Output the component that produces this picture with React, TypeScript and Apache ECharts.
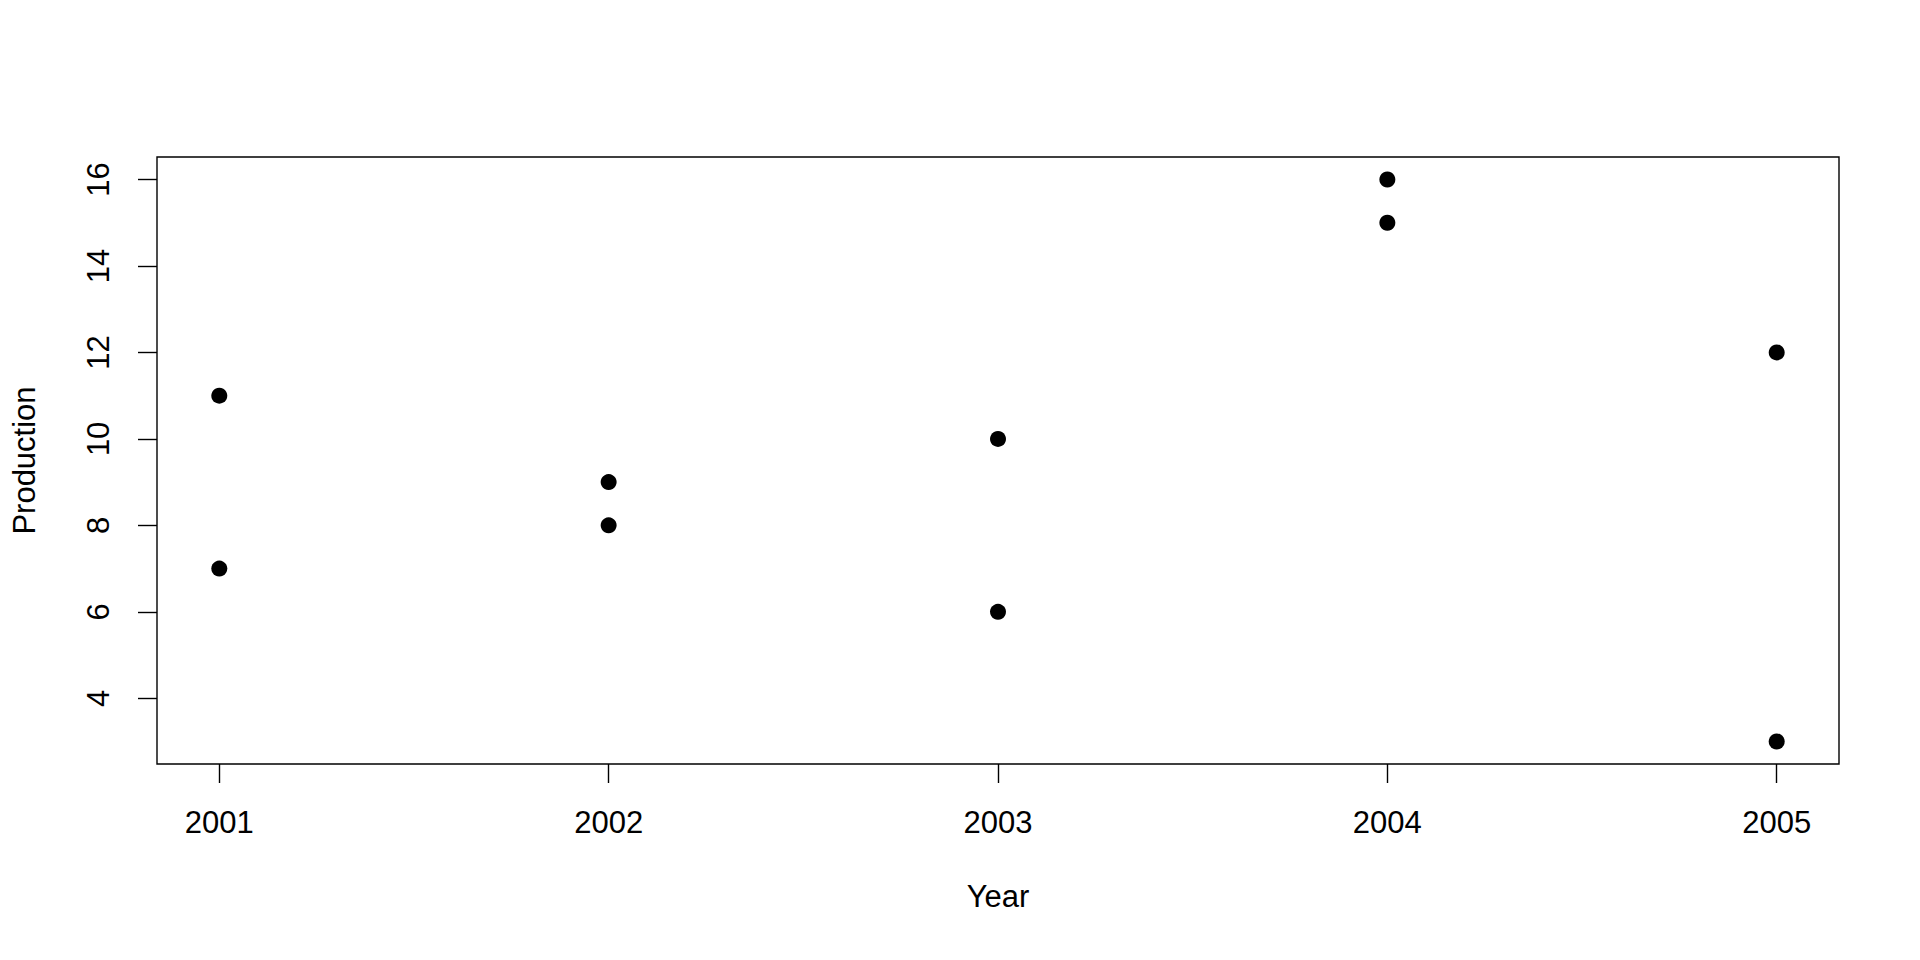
import React, { useEffect, useRef } from "react";
import * as echarts from "echarts";

const years = [2001, 2002, 2003, 2004, 2005];
const productionLow = [7, 8, 6, 15, 3];
const productionHigh = [11, 9, 10, 16, 12];
const xTicks = [2001, 2002, 2003, 2004, 2005];
const yTicks = [4, 6, 8, 10, 12, 14, 16];

const FONT = "'Liberation Sans', Arial, Helvetica, sans-serif";

export default function App() {
  const ref = useRef<HTMLDivElement>(null);
  useEffect(() => {
    if (!ref.current) return;
    const chart = echarts.init(ref.current, undefined, { renderer: "svg" });
    const points: number[][] = [];
    years.forEach((y, i) => {
      points.push([y, productionLow[i]]);
      points.push([y, productionHigh[i]]);
    });
    const allY = [...productionLow, ...productionHigh];
    const yMinD = Math.min(...allY);
    const yMaxD = Math.max(...allY);
    const yPad = (yMaxD - yMinD) * 0.04;
    const xMinD = Math.min(...years);
    const xMaxD = Math.max(...years);
    const xPad = (xMaxD - xMinD) * 0.04;
    chart.setOption({
      animation: false,
      backgroundColor: "#ffffff",
      grid: {
        left: 157,
        right: 81,
        top: 157,
        bottom: 196,
        show: true,
        borderColor: "#000",
        borderWidth: 1.4,
        backgroundColor: "transparent",
      },
      xAxis: {
        type: "value",
        min: xMinD - xPad,
        max: xMaxD + xPad,
        name: "Year",
        nameLocation: "middle",
        nameGap: 117,
        nameTextStyle: { fontFamily: FONT, fontSize: 31, color: "#000" },
        splitLine: { show: false },
        axisLine: { show: false },
        axisTick: {
          show: true,
          customValues: xTicks,
          length: 19,
          lineStyle: { color: "#000", width: 1.4 },
        },
        axisLabel: {
          customValues: xTicks,
          margin: 43,
          fontFamily: FONT,
          fontSize: 31,
          color: "#000",
          formatter: (v: number) => String(v),
        },
      },
      yAxis: {
        type: "value",
        min: yMinD - yPad,
        max: yMaxD + yPad,
        name: "Production",
        nameLocation: "middle",
        nameGap: 117,
        nameRotate: 90,
        nameTextStyle: { fontFamily: FONT, fontSize: 31, color: "#000" },
        splitLine: { show: false },
        axisLine: { show: false },
        axisTick: {
          show: true,
          customValues: yTicks,
          length: 19,
          lineStyle: { color: "#000", width: 1.4 },
        },
        axisLabel: {
          customValues: yTicks,
          rotate: 90,
          margin: 43,
          fontFamily: FONT,
          fontSize: 31,
          color: "#000",
          formatter: (v: number) => String(v),
        },
      },
      series: [
        {
          type: "scatter",
          data: points,
          symbol: "circle",
          symbolSize: 16,
          itemStyle: { color: "#000", opacity: 1 },
        },
      ],
    });
    return () => chart.dispose();
  }, []);
  return (
    <div
      ref={ref}
      style={{ position: "absolute", left: 0, top: 0, width: 1920, height: 960, background: "#fff" }}
    />
  );
}
